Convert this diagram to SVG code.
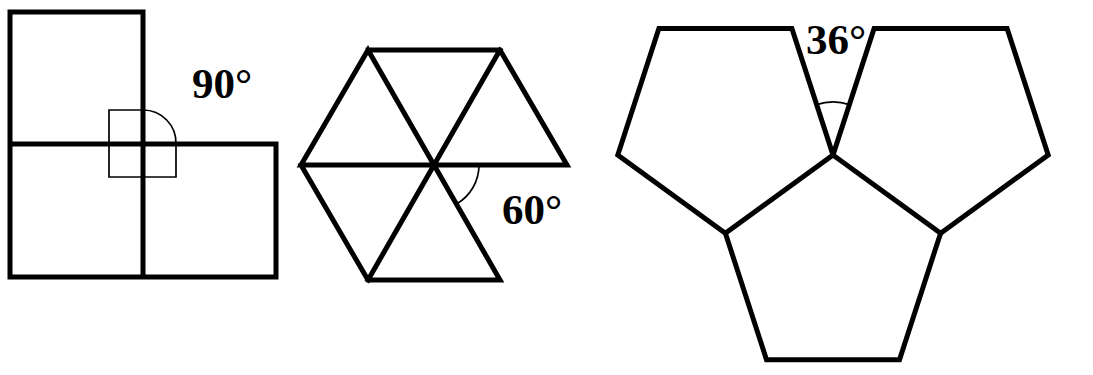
<svg xmlns="http://www.w3.org/2000/svg" width="1093" height="375" viewBox="0 0 1093 375">
<style>
.thick{fill:none;stroke:#000;stroke-width:5;stroke-linejoin:miter;stroke-linecap:square}
.thin{fill:none;stroke:#000;stroke-width:1.7}
.lbl{font-family:'Liberation Serif','Times New Roman',Times,serif;font-weight:700;font-size:43px;fill:#000}
</style>
<rect width="1093" height="375" fill="#fff"/>
<g id="squares">
<path class="thick" d="M10,12 H143 V144 H276 V277 H10 Z M143,12 V277 M10,144 H276"/>
<path class="thin" d="M143,110 H109 V177 H176 V144 A33,33 0 0 0 143,110"/>
<text class="lbl" x="192" y="98">90°</text>
</g>
<g id="hexagon">
<path class="thick" d="M368,50 H500 L567,165 H301 L368,50 L500,280 H368 L301,165 M500,50 L368,280"/>
<path class="thin" d="M479,165 A45,45 0 0 1 456.5,204"/>
<text class="lbl" x="502" y="224">60°</text>
</g>
<g id="pentagons">
<path class="thick" d="M833,155 L725.4,233.2 L766.5,359.7 H899.5 L940.6,233.2 Z"/>
<path class="thick" d="M833,155 L791.9,28.5 H658.9 L617.8,155 L725.4,233.2"/>
<path class="thick" d="M833,155 L874.1,28.5 H1007.1 L1048.2,155 L940.6,233.2"/>
<path class="thin" d="M816.6,104.6 A53,53 0 0 1 849.4,104.6"/>
<text class="lbl" x="806" y="54">36°</text>
</g>
</svg>
